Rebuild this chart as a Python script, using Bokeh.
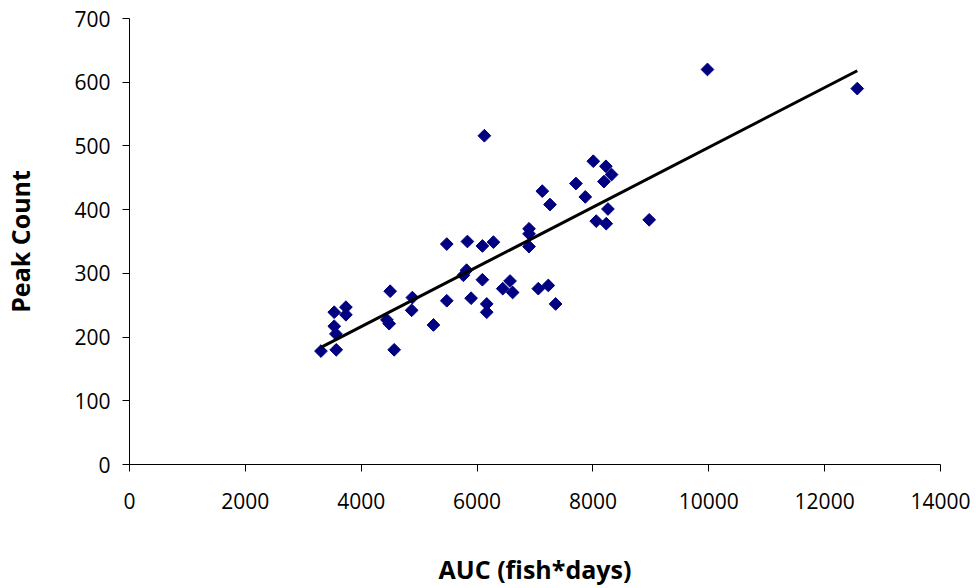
import numpy as np
from bokeh.plotting import figure
from bokeh.models import ColumnDataSource, Range1d, FixedTicker
from bokeh.embed import file_html
from bokeh.resources import INLINE

# AUC (fish*days) vs peak count for each site/year
auc = [3305, 3569, 3534, 3563, 3534, 3736, 3736, 4500, 4443, 4483,
       4569, 4883, 4871, 5247, 5477, 5477, 5833, 6092, 5764, 5819,
       6092, 5897, 6167, 6167, 6126, 6282, 6897, 6897, 6897, 6569,
       6443, 6614, 7057, 7230, 7356, 7126, 7259, 7707, 7868, 8006,
       8224, 8322, 8190, 8259, 8057, 8230, 8971, 9977, 12563]
peak = [178, 180, 217, 205, 239, 247, 235, 272, 227, 221,
        180, 262, 242, 219, 346, 257, 350, 343, 297, 305,
        290, 261, 252, 239, 516, 349, 370, 362, 342, 288,
        276, 270, 276, 281, 252, 429, 408, 441, 420, 476,
        468, 455, 444, 401, 382, 378, 384, 620, 590]

x_ticks = [0, 2000, 4000, 6000, 8000, 10000, 12000, 14000]
y_ticks = [0, 100, 200, 300, 400, 500, 600, 700]

# least-squares trend line across the observed AUC span
slope, intercept = np.polyfit(auc, peak, 1)
fit_x = [min(auc), max(auc)]
fit_y = [slope * v + intercept for v in fit_x]

p = figure(width=976, height=588, output_backend="svg", toolbar_location=None,
           x_range=Range1d(0, 14000), y_range=Range1d(0, 700),
           min_border_left=129, min_border_right=36,
           min_border_top=18, min_border_bottom=124)
p.outline_line_color = None
p.grid.visible = False
p.background_fill_color = "white"
p.border_fill_color = "white"

src = ColumnDataSource(dict(x=auc, y=peak))
p.scatter("x", "y", source=src, marker="square", size=9, angle=np.pi / 4,
          fill_color="#000080", line_color="#000080")
p.line(fit_x, fit_y, line_color="black", line_width=3)

p.xaxis.ticker = FixedTicker(ticks=x_ticks)
p.yaxis.ticker = FixedTicker(ticks=y_ticks)
for ax in (p.xaxis[0], p.yaxis[0]):
    ax.minor_tick_line_color = None
    ax.major_tick_in = 0
    ax.major_tick_out = 7
    ax.axis_line_color = "black"
    ax.major_tick_line_color = "black"
    ax.major_label_text_font = "Open Sans"
    ax.major_label_text_font_size = "21px"
    ax.major_label_text_color = "black"
    ax.axis_label_text_font = "Open Sans"
    ax.axis_label_text_font_style = "bold"
    ax.axis_label_text_font_size = "25px"
    ax.axis_label_text_color = "black"

p.xaxis.axis_label = "AUC (fish*days)"
p.yaxis.axis_label = "Peak Count"
p.xaxis.major_label_standoff = 21
p.xaxis.axis_label_standoff = 40
p.yaxis.major_label_standoff = 12
p.yaxis.axis_label_standoff = 34

open("out.html", "w").write(file_html(p, INLINE))
